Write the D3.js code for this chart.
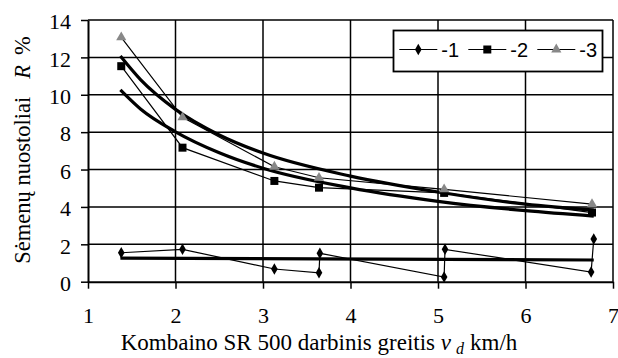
<!DOCTYPE html>
<html><head><meta charset="utf-8">
<script src="https://cdn.jsdelivr.net/npm/d3@7"></script>
<style>body{margin:0;background:#fff}svg{display:block}</style>
</head><body>
<script>
// ---- data ----
const speed1 = [1.38, 2.08, 3.13, 3.64, 3.65, 5.07, 5.08, 6.75, 6.78];
const loss1  = [1.55, 1.73, 0.68, 0.48, 1.52, 0.25, 1.73, 0.52, 2.28];
const speed23 = [1.38, 2.08, 3.13, 3.64, 5.07, 6.76];
const loss2  = [11.53, 7.17, 5.39, 5.03, 4.75, 3.70];
const loss3  = [13.07, 8.79, 6.15, 5.56, 4.94, 4.15];
// trend curves
const trendX   = [1.37, 1.6, 2, 2.5, 3, 4, 5, 6, 6.78];
const trendUp  = [12.07, 10.81, 9.22, 7.85, 6.88, 5.65, 4.80, 4.15, 3.83];
const trendLow = [10.26, 9.24, 8.02, 6.90, 6.07, 5.02, 4.30, 3.80, 3.51];
const trend1X = [1.37, 6.78];
const trend1Y = [1.26, 1.16];
const xTicks = [1, 2, 3, 4, 5, 6, 7];
const yTicks = [0, 2, 4, 6, 8, 10, 12, 14];
const legendLabels = ["-1", "-2", "-3"];

const W = 618, H = 358;
const svg = d3.select("body").append("svg").attr("width", W).attr("height", H);
const x = d3.scaleLinear().domain([1, 7]).range([88, 613]);
const y = d3.scaleLinear().domain([0, 14]).range([281.7, 20]);
const serif = "'Liberation Serif','Times New Roman',serif";
const sans = "'Liberation Sans',Arial,sans-serif";

// grid
const g = svg.append("g");
g.selectAll(".hg").data(yTicks.filter(d => d > 0)).join("line")
  .attr("x1", x(1)).attr("x2", x(7)).attr("y1", d => y(d)).attr("y2", d => y(d))
  .attr("stroke", "#000").attr("stroke-width", 1.5);
g.selectAll(".vg").data(xTicks.filter(d => d > 1)).join("line")
  .attr("y1", y(0)).attr("y2", y(14)).attr("x1", d => x(d)).attr("x2", d => x(d))
  .attr("stroke", "#000").attr("stroke-width", 1.5);

// axes
const fmt = d3.format("d");
const yAxis = d3.axisLeft(y).tickValues(yTicks).tickFormat(fmt).tickSize(7).tickPadding(10).tickSizeOuter(0);
const ya = svg.append("g").attr("transform", `translate(${x(1)},0)`).call(yAxis);
const xAxis = d3.axisBottom(x).tickValues(xTicks).tickFormat(fmt).tickSize(7).tickPadding(19).tickSizeOuter(0);
const xa = svg.append("g").attr("transform", `translate(0,${y(0)})`).call(xAxis);
[ya, xa].forEach(a => {
  a.attr("font-family", null).attr("font-size", null);
  a.selectAll("path").attr("stroke", "#000").attr("stroke-width", 2);
  a.selectAll("line").attr("stroke", "#000").attr("stroke-width", 1.5);
  a.selectAll("text").style("font-family", serif).style("font-size", "22px").attr("fill", "#000");
});
ya.selectAll("text").attr("dy", "0.4em");

// series lines
const line = d3.line().x(d => x(d[0])).y(d => y(d[1]));
const s1 = speed1.map((v, i) => [v, loss1[i]]);
const s2 = speed23.map((v, i) => [v, loss2[i]]);
const s3 = speed23.map((v, i) => [v, loss3[i]]);
[s1, s2, s3].forEach(s => svg.append("path").attr("d", line(s))
  .attr("fill", "none").attr("stroke", "#000").attr("stroke-width", 1.2));

// trend lines
const curve = d3.line().x(d => x(d[0])).y(d => y(d[1])).curve(d3.curveMonotoneX);
[trendUp, trendLow].forEach(t => svg.append("path")
  .attr("d", curve(trendX.map((v, i) => [v, t[i]])))
  .attr("fill", "none").attr("stroke", "#000").attr("stroke-width", 3.2));
svg.append("path").attr("d", line(trend1X.map((v, i) => [v, trend1Y[i]])))
  .attr("fill", "none").attr("stroke", "#000").attr("stroke-width", 3.2);

// markers
const diamond = d3.symbol().type(d3.symbolDiamond).size(38);
const square = d3.symbol().type(d3.symbolSquare).size(64);
const tri = d3.symbol().type(d3.symbolTriangle).size(45);
svg.selectAll(".m2").data(s2).join("path").attr("d", square())
  .attr("transform", d => `translate(${x(d[0])},${y(d[1])})`).attr("fill", "#000");
svg.selectAll(".m3").data(s3).join("path").attr("d", tri())
  .attr("transform", d => `translate(${x(d[0])},${y(d[1])})`).attr("fill", "#888");
svg.selectAll(".m1").data(s1).join("path").attr("d", diamond())
  .attr("transform", d => `translate(${x(d[0])},${y(d[1])})`).attr("fill", "#000");

// legend
const lg = svg.append("g");
lg.append("rect").attr("x", 393.5).attr("y", 30.5).attr("width", 209).attr("height", 41)
  .attr("fill", "#fff").attr("stroke", "#000").attr("stroke-width", 1.8);
const legX = [399.3, 468.3, 537.3];
const legSym = [diamond, square, tri];
const legFill = ["#000", "#000", "#888"];
legendLabels.forEach((lab, i) => {
  const ly = 49.5;
  lg.append("line").attr("x1", legX[i]).attr("x2", legX[i] + 38).attr("y1", ly).attr("y2", ly)
    .attr("stroke", "#000").attr("stroke-width", 1.2);
  lg.append("path").attr("d", legSym[i]()).attr("transform", `translate(${legX[i] + 19},${ly})`)
    .attr("fill", legFill[i]);
  lg.append("text").attr("x", legX[i] + 42).attr("y", ly + 7.5).text(lab)
    .style("font-family", sans).style("font-size", "20px").attr("fill", "#000");
});

// axis titles
const xt = svg.append("text").attr("x", 319).attr("y", 350).attr("text-anchor", "middle")
  .style("font-family", serif).style("font-size", "23px").attr("fill", "#000");
xt.append("tspan").text("Kombaino SR 500 darbinis greitis ");
xt.append("tspan").style("font-style", "italic").text("v");
xt.append("tspan").style("font-style", "italic").style("font-size", "16px").attr("dx", 5).attr("dy", 4).text("d");
xt.append("tspan").attr("dy", -4).attr("dx", 6).text("km/h");

const yt = svg.append("text").attr("transform", "translate(30,150) rotate(-90)")
  .attr("text-anchor", "middle").style("font-family", serif).style("font-size", "22.5px").attr("fill", "#000");
yt.append("tspan").text("Sėmenų nuostoliai");
yt.append("tspan").attr("dx", 18).style("font-style", "italic").text("R");
yt.append("tspan").attr("dx", 10).text("%");
</script>
</body></html>
